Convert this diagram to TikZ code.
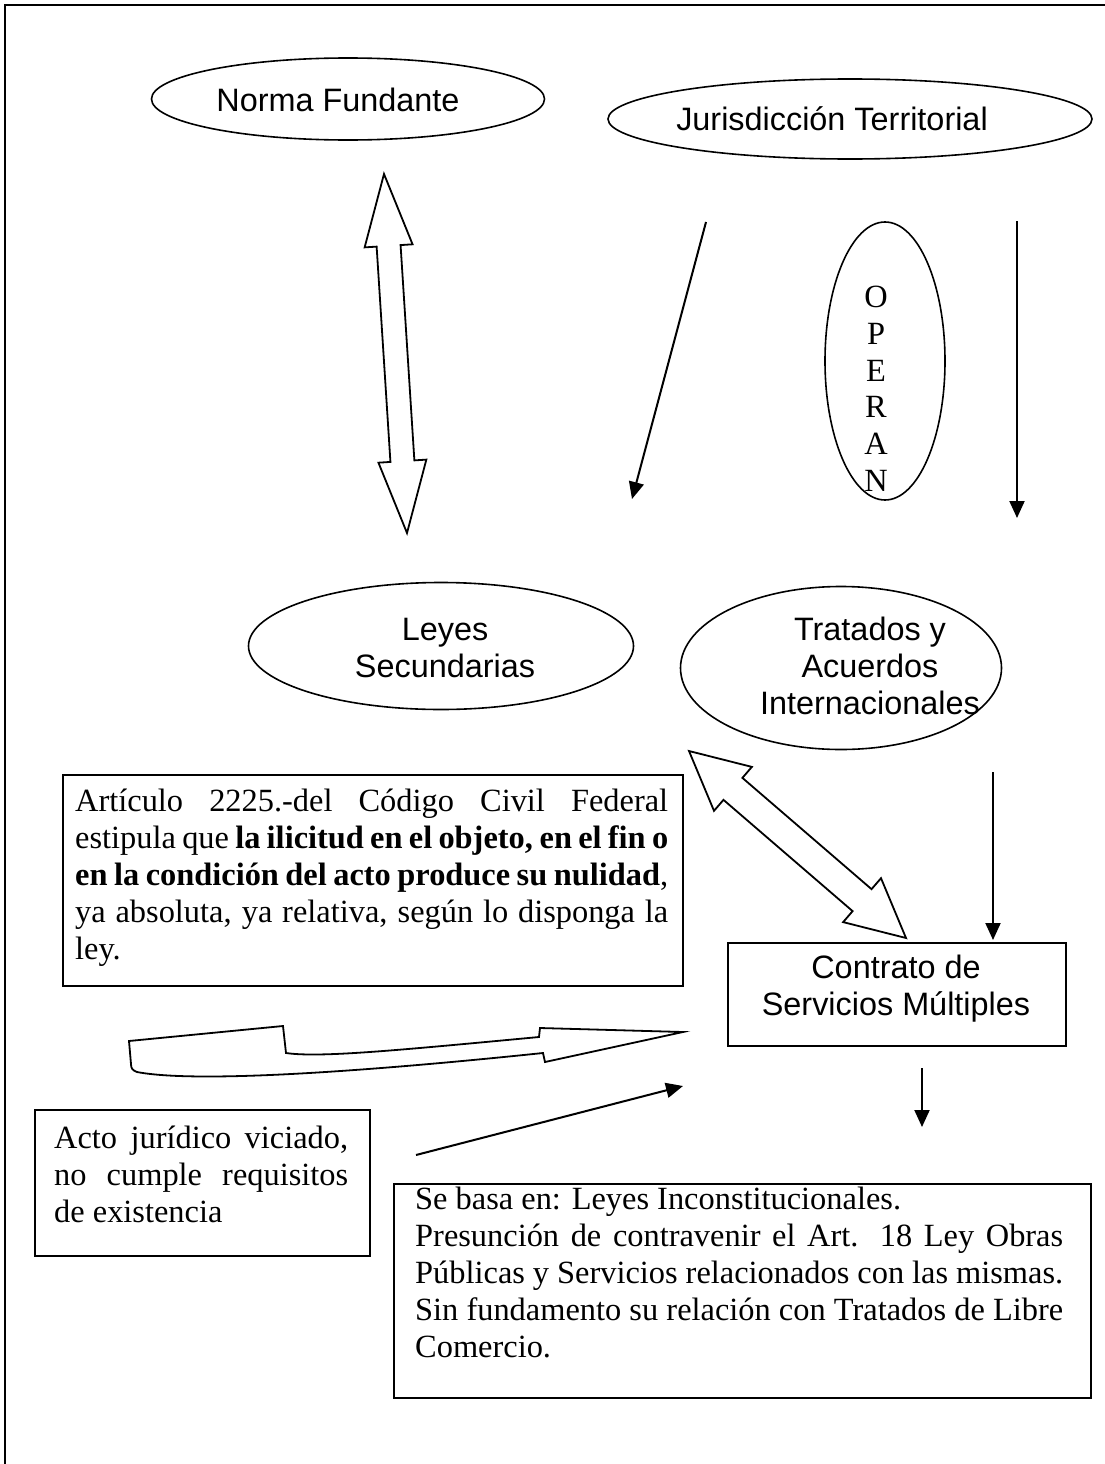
\documentclass[tikz,border=0pt]{standalone}
\usepackage{fontspec}
\setmainfont{Liberation Serif}
\newfontfamily\arialf{Liberation Sans}
\usetikzlibrary{shapes.geometric,arrows.meta,calc}

\newcommand{\dblblock}[5]{% start, end, shaft half width, head half width, head length
  \coordinate (hA) at ($(#1)!#5!(#2)$);
  \coordinate (hB) at ($(#2)!#5!(#1)$);
  \draw[blk] (#1) -- ($(hA)!#4!90:(#1)$) -- ($(hA)!#3!90:(#1)$)
    -- ($(hB)!#3!-90:(#2)$) -- ($(hB)!#4!-90:(#2)$) -- (#2)
    -- ($(hB)!#4!90:(#2)$) -- ($(hB)!#3!90:(#2)$)
    -- ($(hA)!#3!-90:(#1)$) -- ($(hA)!#4!-90:(#1)$) -- cycle;
}

\tikzset{
  oval/.style={ellipse, draw, line width=1.6pt, inner sep=0pt},
  sbox/.style={rectangle, draw, line width=1.8pt, inner sep=0pt, anchor=north west},
  stxt/.style={font=\arialf\fontsize{32.4}{37.3}\selectfont, inner sep=0pt, anchor=base},
  rtxt/.style={font=\fontsize{32.4}{37.3}\selectfont, inner sep=0pt, anchor=base west},
  thinarrow/.style={line width=2pt, -{Triangle[length=17pt,width=15pt]}},
  blk/.style={draw, line width=1.8pt, line join=miter, fill=white},
}

\begin{document}
\begin{tikzpicture}[x=1pt,y=-1pt]
\useasboundingbox (0,0) rectangle (1105,1464);
\fill[white] (0,0) rectangle (1105,1464);

% outer frame (clipped at the page)
\draw[line width=2pt] (5,1470) -- (5,5) -- (1110,5);

% ellipses
\node[oval, minimum width=393pt, minimum height=82pt] (nf) at (348,99) {};
\node[stxt] (nft) at (338,111) {Norma Fundante};

\node[oval, minimum width=484pt, minimum height=80pt] (jt) at (850,119) {};
\node[stxt] (jtt) at (832,130) {Jurisdicción Territorial};

\node[oval, minimum width=120pt, minimum height=278pt] (op) at (885,361) {};
\node[rtxt, anchor=base, font=\fontsize{32.4}{36.8}\selectfont] (opt) at (876,307.5)
  {\parbox[t]{40pt}{\centering O\\P\\E\\R\\A\\N}};

\node[oval, minimum width=385pt, minimum height=127pt] (ls) at (441,646) {};
\node[stxt] (lst) at (445,640) {\parbox[t]{300pt}{\centering Leyes\\Secundarias}};

\node[oval, minimum width=321pt, minimum height=163pt] (ta) at (841,668) {};
\node[stxt] (tat) at (870,640) {\parbox[t]{300pt}{\centering Tratados y\\Acuerdos\\Internacionales}};

% boxes
\node[sbox, minimum width=620pt, minimum height=211pt] (art) at (62,774) {};
\node[rtxt] (artt) at (75,811) {\parbox[t]{593pt}{\fontsize{32.4}{37.1}\selectfont
\makebox[593pt][s]{Artículo 2225.-del Código Civil Federal}\\
\makebox[593pt][s]{estipula que \textbf{la ilicitud en el objeto, en el fin o}}\\
\makebox[593pt][s]{\textbf{en la condición del acto produce su nulidad},}\\
\makebox[593pt][s]{ya absoluta, ya relativa, según lo disponga la}\\
ley.}};

\node[sbox, minimum width=338pt, minimum height=103pt] (cs) at (727,942) {};
\node[stxt] (cst) at (896,978) {\parbox[t]{330pt}{\centering Contrato de\\Servicios Múltiples}};

\node[sbox, minimum width=335pt, minimum height=146pt] (aj) at (34,1109) {};
\node[rtxt] (ajt) at (54,1148) {\parbox[t]{294pt}{\fontsize{32.4}{37.1}\selectfont
\makebox[294pt][s]{Acto jurídico viciado,}\\
\makebox[294pt][s]{no cumple requisitos}\\
de existencia}};

\node[sbox, minimum width=697pt, minimum height=214pt] (sb) at (393,1183) {};
\node[rtxt] (sbt) at (415,1209) {\parbox[t]{648pt}{\fontsize{32.4}{37.1}\selectfont
Se basa en: Leyes Inconstitucionales.\\
\makebox[648pt][s]{Presunción de contravenir el Art. 18 Ley Obras}\\
Públicas y Servicios relacionados con las mismas.\\
\makebox[648pt][s]{Sin fundamento su relación con Tratados de Libre}\\
Comercio.}};

% block double arrows
\coordinate (a1s) at (384,174);
\coordinate (a1e) at (407,533);
\dblblock{a1s}{a1e}{12pt}{24pt}{72pt}

\coordinate (a2s) at (689,751);
\coordinate (a2e) at (906,938);
\dblblock{a2s}{a2e}{14.5pt}{29pt}{58pt}

% bent block arrow
\coordinate (bt) at (683,1032);
\draw[blk] (129,1041) -- (283,1026) -- (286,1053)
  .. controls (320,1058) and (400,1050) .. (539,1037) -- (540,1028) -- (bt)
  -- (545,1062) -- (543,1053)
  .. controls (380,1070) and (200,1084) .. (137,1072)
  .. controls (132,1070) and (131,1068) .. (131,1064) -- cycle;

% thin arrows
\coordinate (d1s) at (706,222);
\coordinate (d1e) at (632,499);
\draw[thinarrow] (d1s) -- (d1e);

\coordinate (v1s) at (1017,221);
\coordinate (v1e) at (1017,518);
\draw[thinarrow] (v1s) -- (v1e);

\coordinate (v2s) at (993,772);
\coordinate (v2e) at (993,940);
\draw[thinarrow] (v2s) -- (v2e);

\coordinate (v3s) at (922,1068);
\coordinate (v3e) at (922,1127);
\draw[thinarrow] (v3s) -- (v3e);

\coordinate (d2s) at (416,1155);
\coordinate (d2e) at (683,1086);
\draw[thinarrow] (d2s) -- (d2e);
\end{tikzpicture}
\end{document}
